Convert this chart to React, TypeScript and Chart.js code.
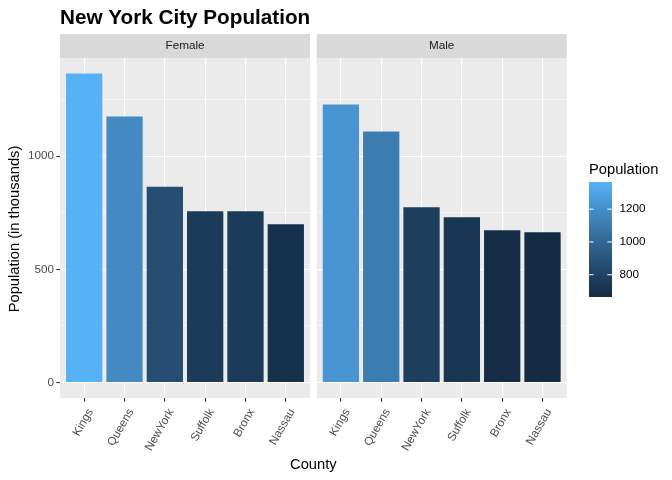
import React, { useEffect, useRef } from "react";
import { Chart, registerables } from "chart.js";

Chart.register(...registerables);

// ---------------- data ----------------
const counties = ["Kings", "Queens", "NewYork", "Suffolk", "Bronx", "Nassau"];
const femaleValues = [1366, 1176, 865, 757, 757, 700];
const maleValues = [1229, 1110, 775, 731, 673, 664];
const panelLabels = ["Female", "Male"];
const legendTicks = [800, 1000, 1200];
const yLabelTicks = [0, 500, 1000];
const yGridTicks = [0, 250, 500, 750, 1000, 1250];

// ---------------- layout / style ----------------
const W = 672;
const H = 480;
const PANEL_TOP = 58;
const PANEL_BOTTOM = 398;
const STRIP_TOP = 34;
const PANELS = [
  { left: 60, right: 310 },
  { left: 316.7, right: 566.7 },
];
const FONT = "'Liberation Sans', Arial, Helvetica, sans-serif";
const LOW = "#132B43";
const HIGH = "#56B1F7";

const allValues = [...femaleValues, ...maleValues];
const vMin = Math.min(...allValues);
const vMax = Math.max(...allValues);
const yMax = vMax * 1.05;
const yMin = -vMax * 0.05;

// ---------------- Lab colour interpolation (ggplot default gradient) ----------------
function hexToRgb(h: string): number[] {
  const s = h.replace("#", "");
  return [0, 2, 4].map((i) => parseInt(s.slice(i, i + 2), 16));
}
function toLin(c: number) {
  c /= 255;
  return c <= 0.04045 ? c / 12.92 : Math.pow((c + 0.055) / 1.055, 2.4);
}
function fromLin(c: number) {
  const v = c <= 0.0031308 ? 12.92 * c : 1.055 * Math.pow(c, 1 / 2.4) - 0.055;
  return Math.round(Math.max(0, Math.min(1, v)) * 255);
}
function rgbToLab(rgb: number[]) {
  const [r, g, b] = rgb.map(toLin);
  const X = (0.4124564 * r + 0.3575761 * g + 0.1804375 * b) / 0.95047;
  const Y = 0.2126729 * r + 0.7151522 * g + 0.072175 * b;
  const Z = (0.0193339 * r + 0.119192 * g + 0.9503041 * b) / 1.08883;
  const f = (t: number) => (t > 0.008856 ? Math.cbrt(t) : 7.787 * t + 16 / 116);
  const fx = f(X), fy = f(Y), fz = f(Z);
  return [116 * fy - 16, 500 * (fx - fy), 200 * (fy - fz)];
}
function labToRgb(lab: number[]) {
  const [L, a, bb] = lab;
  const fy = (L + 16) / 116;
  const fx = fy + a / 500;
  const fz = fy - bb / 200;
  const inv = (t: number) => (t * t * t > 0.008856 ? t * t * t : (t - 16 / 116) / 7.787);
  const X = inv(fx) * 0.95047, Y = inv(fy), Z = inv(fz) * 1.08883;
  const r = 3.2404542 * X - 1.5371385 * Y - 0.4985314 * Z;
  const g = -0.969266 * X + 1.8760108 * Y + 0.041556 * Z;
  const b = 0.0556434 * X - 0.2040259 * Y + 1.0572252 * Z;
  return [fromLin(r), fromLin(g), fromLin(b)];
}
const LAB_LOW = rgbToLab(hexToRgb(LOW));
const LAB_HIGH = rgbToLab(hexToRgb(HIGH));
function colorFor(v: number) {
  const t = Math.max(0, Math.min(1, (v - vMin) / (vMax - vMin)));
  const lab = LAB_LOW.map((c, i) => c + (LAB_HIGH[i] - c) * t);
  const [r, g, b] = labToRgb(lab);
  return `rgb(${r},${g},${b})`;
}

// ---------------- plugins ----------------
const panelBg = {
  id: "panelBg",
  beforeDraw(chart: any) {
    const { ctx, chartArea: a } = chart;
    ctx.save();
    ctx.fillStyle = "#EBEBEB";
    ctx.fillRect(a.left, a.top, a.right - a.left, a.bottom - a.top);
    ctx.restore();
  },
};

function stripPlugin(label: string) {
  return {
    id: "strip",
    afterDraw(chart: any) {
      const { ctx, chartArea: a } = chart;
      ctx.save();
      ctx.fillStyle = "#D9D9D9";
      ctx.fillRect(a.left, STRIP_TOP, a.right - a.left, PANEL_TOP - STRIP_TOP);
      ctx.fillStyle = "#1A1A1A";
      ctx.font = `11.7px ${FONT}`;
      ctx.textAlign = "center";
      ctx.textBaseline = "middle";
      ctx.fillText(label, (a.left + a.right) / 2, (STRIP_TOP + PANEL_TOP) / 2);
      ctx.restore();
    },
  };
}

const titlesPlugin = {
  id: "titles",
  afterDraw(chart: any) {
    const { ctx } = chart;
    ctx.save();
    ctx.fillStyle = "#000000";
    ctx.font = `bold 20.7px ${FONT}`;
    ctx.textAlign = "left";
    ctx.textBaseline = "alphabetic";
    ctx.fillText("New York City Population", PANELS[0].left, 24);

    ctx.font = `14.7px ${FONT}`;
    ctx.textAlign = "center";
    ctx.textBaseline = "middle";
    ctx.fillText("County", (PANELS[0].left + PANELS[1].right) / 2, 465);

    ctx.translate(15, (PANEL_TOP + PANEL_BOTTOM) / 2 + 1);
    ctx.rotate(-Math.PI / 2);
    ctx.fillText("Population (in thousands)", 0, 0);
    ctx.restore();
  },
};

const legendPlugin = {
  id: "colorbar",
  afterDraw(chart: any) {
    const { ctx } = chart;
    const bx = 589, bw = 23, top = 182, bottom = 297;
    ctx.save();
    ctx.fillStyle = "#000000";
    ctx.font = `14.7px ${FONT}`;
    ctx.textAlign = "left";
    ctx.textBaseline = "alphabetic";
    ctx.fillText("Population", bx, 174);
    for (let y = top; y < bottom; y++) {
      const t = (bottom - (y + 0.5)) / (bottom - top);
      ctx.fillStyle = colorFor(vMin + t * (vMax - vMin));
      ctx.fillRect(bx, y, bw, 1);
    }
    ctx.font = `11.7px ${FONT}`;
    ctx.textBaseline = "middle";
    legendTicks.forEach((v) => {
      const py = bottom - ((v - vMin) / (vMax - vMin)) * (bottom - top);
      ctx.strokeStyle = "#FFFFFF";
      ctx.lineWidth = 1;
      ctx.beginPath();
      ctx.moveTo(bx, py);
      ctx.lineTo(bx + 4.6, py);
      ctx.moveTo(bx + bw - 4.6, py);
      ctx.lineTo(bx + bw, py);
      ctx.stroke();
      ctx.fillStyle = "#000000";
      ctx.fillText(String(v), bx + bw + 7.6, py);
    });
    ctx.restore();
  },
};

// ---------------- chart factory ----------------
function makeConfig(values: number[], panelIndex: number): any {
  const first = panelIndex === 0;
  const panel = PANELS[panelIndex];
  const isMajor = (ctx: any) =>
    ctx.tick && yLabelTicks.includes(Math.round(ctx.tick.value));
  const plugins: any[] = [panelBg, stripPlugin(panelLabels[panelIndex])];
  if (first) plugins.push(titlesPlugin);
  else plugins.push(legendPlugin);
  return {
    type: "bar",
    data: {
      datasets: [
        {
          data: values.map((v, i) => ({ x: i + 1, y: v })),
          backgroundColor: values.map(colorFor),
          borderWidth: 0,
          barPercentage: 0.9,
          categoryPercentage: 1,
        },
      ],
    },
    options: {
      responsive: false,
      animation: false,
      events: [],
      layout: {
        padding: {
          left: first ? 0 : panel.left,
          right: W - panel.right,
          top: PANEL_TOP,
          bottom: 0,
        },
      },
      plugins: {
        legend: { display: false },
        tooltip: { enabled: false },
        title: { display: false },
      },
      scales: {
        x: {
          type: "linear",
          min: 0.4,
          max: counties.length + 0.6,
          offset: false,
          afterBuildTicks: (s: any) => {
            s.ticks = counties.map((_, i) => ({ value: i + 1 }));
          },
          ticks: {
            autoSkip: false,
            maxRotation: 60,
            minRotation: 60,
            color: "#4D4D4D",
            font: { family: FONT, size: 11.7 },
            padding: 4.5,
            labelOffset: 6.5,
            callback: (v: number) => counties[Math.round(v) - 1] ?? "",
          },
          grid: {
            offset: false,
            color: "#FFFFFF",
            lineWidth: 1.1,
            drawTicks: true,
            tickLength: 3.7,
            tickColor: "#333333",
            tickWidth: 1.1,
          },
          border: { display: false },
          afterFit: (s: any) => {
            s.height = H - PANEL_BOTTOM;
          },
        },
        y: {
          min: yMin,
          max: yMax,
          afterBuildTicks: (s: any) => {
            s.ticks = yGridTicks.map((v) => ({ value: v }));
          },
          ticks: {
            display: first,
            color: "#4D4D4D",
            font: { family: FONT, size: 11.7 },
            padding: 2.2,
            callback: (v: number) =>
              yLabelTicks.includes(Math.round(v)) ? String(Math.round(v)) : "",
          },
          grid: {
            offset: false,
            color: "#FFFFFF",
            lineWidth: (ctx: any) => (isMajor(ctx) ? 1.1 : 0.55),
            drawTicks: first,
            tickLength: 3.7,
            tickWidth: 1.1,
            tickColor: (ctx: any) => (isMajor(ctx) ? "#333333" : "rgba(0,0,0,0)"),
          },
          border: { display: false },
          afterFit: (s: any) => {
            s.width = first ? panel.left : 0;
          },
        },
      },
    },
    plugins,
  };
}

export default function App() {
  const refA = useRef<HTMLCanvasElement>(null);
  const refB = useRef<HTMLCanvasElement>(null);

  useEffect(() => {
    document.body.style.margin = "0";
    const a = new Chart(refA.current as HTMLCanvasElement, makeConfig(femaleValues, 0));
    const b = new Chart(refB.current as HTMLCanvasElement, makeConfig(maleValues, 1));
    return () => {
      a.destroy();
      b.destroy();
    };
  }, []);

  const canvasStyle: React.CSSProperties = {
    position: "absolute",
    left: 0,
    top: 0,
    width: W,
    height: H,
  };

  return (
    <div style={{ position: "relative", width: W, height: H, background: "#FFFFFF" }}>
      <canvas ref={refA} width={W} height={H} style={canvasStyle} />
      <canvas ref={refB} width={W} height={H} style={canvasStyle} />
    </div>
  );
}
